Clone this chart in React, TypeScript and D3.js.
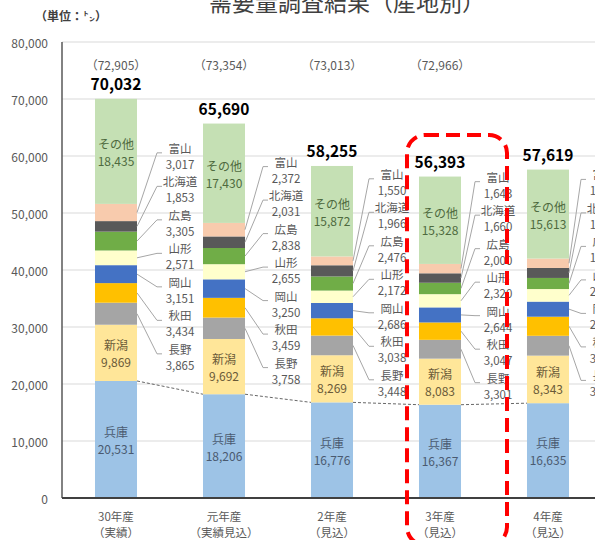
import React from "react";
import * as d3 from "d3";

const categories = ["30年産", "元年産", "2年産", "3年産", "4年産"];
const categorySub = ["（実績）", "（実績見込）", "（見込）", "（見込）", "（見込）"];
const regions = ["兵庫", "新潟", "長野", "秋田", "岡山", "山形", "広島", "北海道", "富山", "その他"];
const hyogo = [20531, 18206, 16776, 16367, 16635];
const niigata = [9869, 9692, 8269, 8083, 8343];
const nagano = [3865, 3758, 3448, 3301, 3478];
const akita = [3434, 3459, 3038, 3047, 3350];
const okayama = [3151, 3250, 2686, 2644, 2650];
const yamagata = [2571, 2655, 2172, 2320, 2200];
const hiroshima = [3305, 2838, 2476, 2000, 1950];
const hokkaido = [1853, 2031, 1966, 1660, 1750];
const toyama = [3017, 2372, 1550, 1643, 1650];
const other = [18435, 17430, 15872, 15328, 15613];
const totals = [70032, 65690, 58255, 56393, 57619];
const prevTotals: (number | null)[] = [72905, 73354, 73013, 72966, null];
const yTicks = [0, 10000, 20000, 30000, 40000, 50000, 60000, 70000, 80000];
const highlighted = "3年産";

const seriesValues = [hyogo, niigata, nagano, akita, okayama, yamagata, hiroshima, hokkaido, toyama, other];
const colors = ["#9DC3E6", "#FFE699", "#A5A5A5", "#FFC000", "#4472C4", "#FFFFCC", "#70AD47", "#595959", "#F8CBAD", "#C5E0B4"];
const inBarText: Record<string, string> = { "兵庫": "#4A5A70", "新潟": "#6A5A38", "その他": "#4E6A3E" };
const sideRegions = ["長野", "秋田", "岡山", "山形", "広島", "北海道", "富山"];

const W = 595, H = 540;
const FONT = "'Noto Sans CJK JP', 'Noto Sans', sans-serif";
const fmt = d3.format(",");

export default function App() {
  const x = d3.scaleBand<string>().domain(categories).range([62, 602]).paddingInner(0.611).paddingOuter(0.3055);
  const y = d3.scaleLinear().domain([0, 80000]).range([498, 42]);
  const bw = x.bandwidth();

  const table = categories.map((c, i) => {
    const row: any = { cat: c };
    regions.forEach((r, k) => (row[r] = seriesValues[k][i]));
    return row;
  });
  const stacked = d3.stack<any>().keys(regions)(table);

  const segs: JSX.Element[] = [];
  const inLabels: JSX.Element[] = [];
  const sideLabels: JSX.Element[] = [];
  stacked.forEach((layer, k) => {
    const key = layer.key;
    layer.forEach((d, i) => {
      const cat = categories[i];
      const x0 = x(cat)!;
      const yTop = y(d[1]);
      const yBot = y(d[0]);
      segs.push(<rect key={`s${k}-${i}`} x={x0} y={yTop} width={bw} height={yBot - yTop} fill={colors[k]} />);
      const cy = (yTop + yBot) / 2;
      if (inBarText[key]) {
        inLabels.push(
          <g key={`il${k}-${i}`} fill={inBarText[key]} fontSize={12} textAnchor="middle">
            <text x={x0 + bw / 2} y={cy - 8} dominantBaseline="central">{key}</text>
            <text x={x0 + bw / 2} y={cy + 9} dominantBaseline="central">{fmt(seriesValues[k][i])}</text>
          </g>
        );
      }
      const si = sideRegions.indexOf(key);
      if (si >= 0) {
        const niiStack = stacked[1][i];
        const base = y((niiStack[0] + niiStack[1]) / 2) + 4;
        const ly = base - si * 33.5;
        const right = x0 + bw;
        const lcx = right + 43 - 2 * i;
        sideLabels.push(
          <g key={`sl${k}-${i}`}>
            <polyline
              points={`${right},${cy} ${lcx - 23},${ly - 3} ${lcx - 18},${ly - 3}`}
              fill="none"
              stroke="#A6A6A6"
              strokeWidth={1}
            />
            <g fill="#595959" fontSize={11.5} textAnchor="middle">
              <text x={lcx} y={ly - 8} dominantBaseline="central">{key}</text>
              <text x={lcx} y={ly + 8} dominantBaseline="central">{fmt(seriesValues[k][i])}</text>
            </g>
          </g>
        );
      }
    });
  });

  const seriesLines = categories.slice(0, -1).map((c, i) => (
    <line
      key={`sl-${i}`}
      x1={x(c)! + bw}
      y1={y(hyogo[i])}
      x2={x(categories[i + 1])!}
      y2={y(hyogo[i + 1])}
      stroke="#404040"
      strokeWidth={0.8}
      strokeDasharray="3,2"
    />
  ));

  const hx = x(highlighted)!;

  return (
    <svg width={W} height={H} style={{ position: "absolute", left: 0, top: 0, background: "#fff" }} fontFamily={FONT}>
      <rect x={0} y={0} width={W} height={H} fill="#fff" />
      <text x={347} y={11} fontSize={23} textAnchor="middle" fill="#404040">需要量調査結果（産地別）</text>
      <text x={35} y={21} fontSize={12} fill="#404040" fontWeight="bold">（単位：㌧）</text>

      {yTicks.map((t) => (
        <g key={`t${t}`}>
          {t > 0 && <line x1={62} x2={W} y1={y(t)} y2={y(t)} stroke="#D9D9D9" strokeWidth={1} />}
          <text x={48} y={y(t)} fontSize={12} fill="#595959" textAnchor="end" dominantBaseline="central">{fmt(t)}</text>
        </g>
      ))}

      {segs}
      {seriesLines}
      {inLabels}
      {sideLabels}

      <line x1={62} x2={62} y1={y(80000)} y2={y(0)} stroke="#595959" strokeWidth={1.5} />
      <line x1={62} x2={W} y1={y(0)} y2={y(0)} stroke="#404040" strokeWidth={2} />

      {categories.map((c, i) => (
        <g key={`c${i}`} textAnchor="middle">
          {prevTotals[i] !== null && (
            <text x={x(c)! + bw / 2} y={64} fontSize={12} fill="#595959" dominantBaseline="central">
              （{fmt(prevTotals[i] as number)}）
            </text>
          )}
          <text x={x(c)! + bw / 2} y={y(totals[i]) - 16} fontSize={15.5} fontWeight="bold" fill="#000" dominantBaseline="central">
            {fmt(totals[i])}
          </text>
          <text x={x(c)! + bw / 2} y={516} fontSize={11.5} fill="#595959" dominantBaseline="central">{c}</text>
          <text x={x(c)! + bw / 2} y={532} fontSize={11.5} fill="#595959" dominantBaseline="central">{categorySub[i]}</text>
        </g>
      ))}

      <rect
        x={hx - 12}
        y={135}
        width={bw + 58}
        height={410}
        rx={18}
        ry={18}
        fill="none"
        stroke="#FF0000"
        strokeWidth={4}
        strokeDasharray="14,7"
      />
    </svg>
  );
}
